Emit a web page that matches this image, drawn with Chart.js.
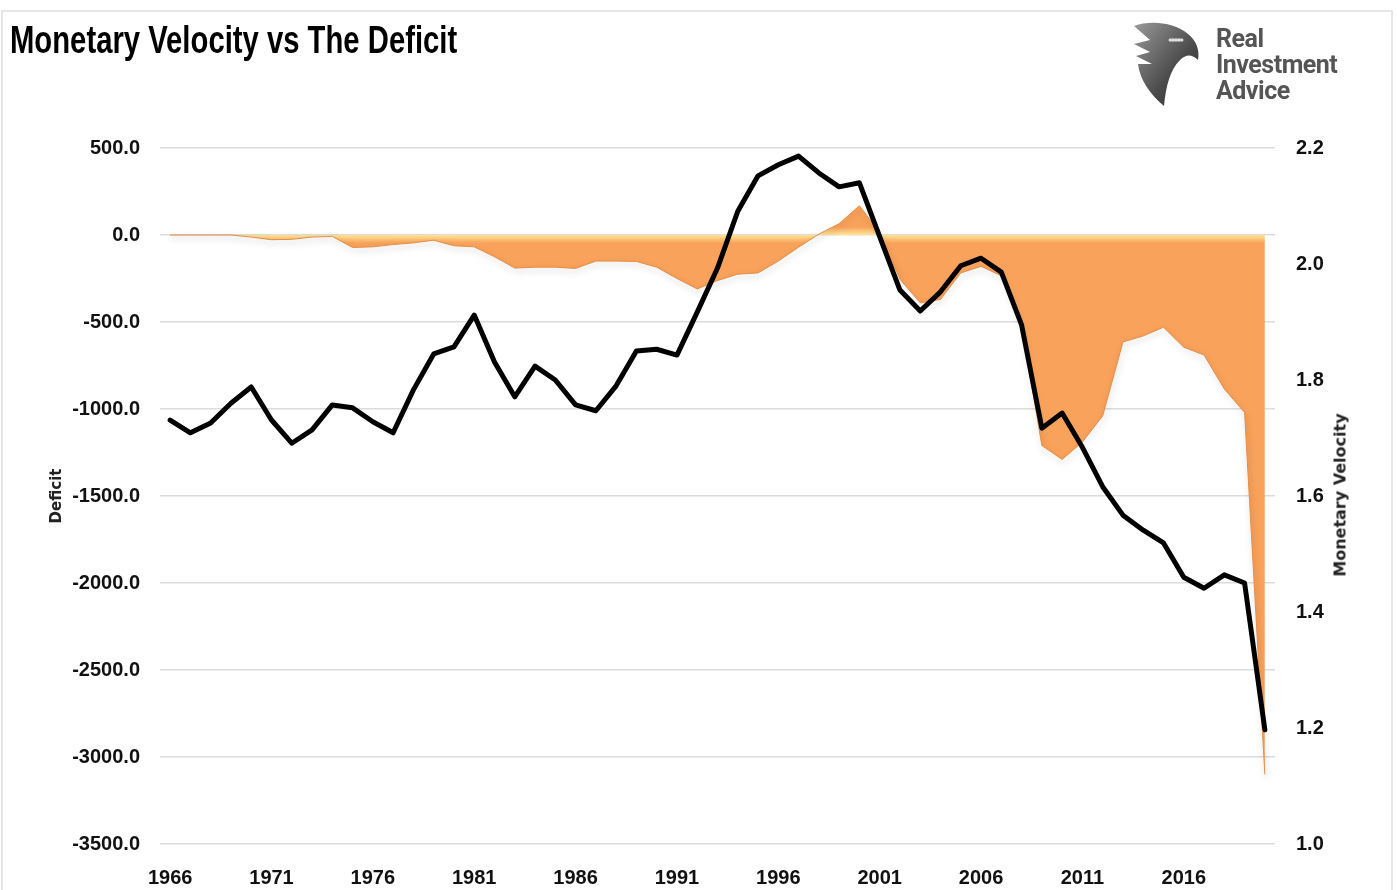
<!DOCTYPE html>
<html>
<head>
<meta charset="utf-8">
<title>Monetary Velocity vs The Deficit</title>
<script src="https://cdn.jsdelivr.net/npm/chart.js@4.4.1/dist/chart.umd.min.js"></script>
<style>
    html, body { margin: 0; padding: 0; background: #fff; }
    .page {
        position: relative;
        width: 1397px;
        height: 890px;
        overflow: hidden;
        font-family: "Liberation Sans", sans-serif;
    }
    .frame {
        position: absolute;
        left: 1px; top: 10px; right: 4px; bottom: -4px;
        border: 2px solid #e6e6e6;
    }
    .title {
        position: absolute;
        left: 10px; top: 19px;
        font-size: 38px;
        font-weight: bold;
        color: #000;
        white-space: nowrap;
        transform: scaleX(0.77);
        transform-origin: left top;
    }
    .logo-text {
        position: absolute;
        left: 1216px; top: 26px;
        font-family: Roboto, "Liberation Sans", sans-serif;
        font-weight: bold;
        font-size: 25px;
        line-height: 26px;
        color: #555;
        letter-spacing: -0.5px;
    }
    .logo-mark { position: absolute; left: 1130px; top: 20px; }
    .y2-title {
        position: absolute;
        left: 1340px; top: 495px;
        font-family: "DejaVu Sans", sans-serif;
        font-weight: bold;
        font-size: 16px;
        color: #222;
        white-space: nowrap;
        transform: translate(-50%, -50%) rotate(-90deg);
    }
    canvas { position: absolute; left: 0; top: 0; }
</style>
</head>
<body>
<div class="page">
    <div class="frame"></div>
    <canvas id="chartContext" width="1397" height="890"></canvas>
    <div class="title">Monetary Velocity vs The Deficit</div>
    <svg class="logo-mark" width="72" height="88" viewBox="0 0 72 88">
        <defs>
            <linearGradient id="lg" x1="0" y1="0" x2="1" y2="1">
                <stop offset="0" stop-color="#9a9a9a"/>
                <stop offset="0.6" stop-color="#4a4a4a"/>
                <stop offset="1" stop-color="#2e2e2e"/>
            </linearGradient>
        </defs>
        <path d="M4 6 C20 0 44 2 58 14 C66 20 70 30 68 40 C62 34 56 34 50 40 C40 50 36 66 34 86 C20 74 10 60 8 44 L22 44 L6 36 L20 32 L4 24 L20 20 Z" fill="url(#lg)"/>
        <path d="M40 20 L52 20" stroke="#ddd" stroke-width="3" stroke-linecap="round"/>
    </svg>
    <div class="logo-text">Real<br>Investment<br>Advice</div>
    <div class="y2-title">Monetary Velocity</div>
</div>
<script>
// Years 1966 - 2020
const years = [];
for (let y = 1966; y <= 2020; y++) years.push(String(y));

// Federal deficit ($bn)
const deficit = [
    0, 0, 0, 0, -12, -27, -25, -12, -8, -72,
    -68, -55, -45, -30, -62, -68, -125, -190, -185, -185,
    -192, -150, -150, -152, -185, -250, -310, -262, -225, -218,
    -150, -70, 5, 65, 168, 15, -255, -390, -370, -218,
    -180, -235, -520, -1210, -1290, -1190, -1040, -615, -580, -530,
    -645, -690, -885, -1020, -3100
];

// Velocity of money (right axis)
const velocity = [
    1.731, 1.709, 1.726, 1.760, 1.788, 1.731, 1.691, 1.714, 1.757, 1.752,
    1.728, 1.709, 1.783, 1.845, 1.857, 1.912, 1.831, 1.771, 1.824, 1.800,
    1.757, 1.747, 1.790, 1.850, 1.853, 1.843, 1.917, 1.993, 2.091, 2.152,
    2.171, 2.186, 2.157, 2.133, 2.140, 2.047, 1.955, 1.919, 1.952, 1.997,
    2.010, 1.986, 1.895, 1.717, 1.743, 1.684, 1.616, 1.567, 1.541, 1.519,
    1.460, 1.441, 1.464, 1.450, 1.197
];

const xLabelYears = ["1966", "1971", "1976", "1981", "1986", "1991", "1996", "2001", "2006", "2011", "2016"];

const tickFont = { family: "'Liberation Sans', sans-serif", size: 20, weight: "bold" };

// soft drop shadow under the deficit area (like the Excel bevel look)
const areaShadow = {
    id: "areaShadow",
    beforeDatasetDraw(chart, args) {
        if (args.index !== 0) return;
        const ctx = chart.ctx;
        ctx.save();
        ctx.shadowColor = "rgba(0,0,0,0.35)";
        ctx.shadowBlur = 6;
        ctx.shadowOffsetX = 1;
        ctx.shadowOffsetY = 3;
    },
    afterDatasetDraw(chart, args) {
        if (args.index !== 0) return;
        chart.ctx.restore();
    }
};

function areaFill(context) {
    const chart = context.chart;
    if (!chart.chartArea) return "#F9A25B";
    const y0 = chart.scales.y.getPixelForValue(0);
    const g = chart.ctx.createLinearGradient(0, y0 - 8, 0, y0 + 8);
    g.addColorStop(0, "#F9A25B");
    g.addColorStop(0.45, "#FFE08F");
    g.addColorStop(0.55, "#FFE08F");
    g.addColorStop(1, "#F9A25B");
    return g;
}

new Chart(document.getElementById("chartContext"), {
    type: "line",
    data: {
        labels: years,
        datasets: [
            {
                label: "Deficit",
                data: deficit,
                yAxisID: "y",
                fill: "origin",
                backgroundColor: areaFill,
                borderColor: "#E58D45",
                borderWidth: 1,
                pointRadius: 0,
                tension: 0,
                order: 2
            },
            {
                label: "Monetary Velocity",
                data: velocity,
                yAxisID: "y1",
                fill: false,
                borderColor: "#000",
                borderWidth: 5,
                borderJoinStyle: "round",
                borderCapStyle: "round",
                pointRadius: 0,
                tension: 0,
                order: 1
            }
        ]
    },
    options: {
        responsive: false,
        animation: false,
        layout: { padding: { top: 148, left: 0, right: 0, bottom: 0 } },
        plugins: {
            legend: { display: false },
            tooltip: { enabled: false }
        },
        scales: {
            x: {
                type: "category",
                offset: true,
                grid: { display: false, drawTicks: false },
                border: { display: false },
                ticks: {
                    autoSkip: false,
                    maxRotation: 0,
                    padding: 22,
                    color: "#111",
                    font: tickFont,
                    callback: function (value) {
                        const lbl = this.getLabelForValue(value);
                        return xLabelYears.includes(lbl) ? lbl : "";
                    }
                },
                afterFit: (scale) => { scale.height = 46; }
            },
            y: {
                position: "left",
                min: -3500,
                max: 500,
                grid: { color: "#dcdcdc", lineWidth: 1.5, drawTicks: false },
                border: { display: false },
                ticks: {
                    stepSize: 500,
                    padding: 20,
                    color: "#111",
                    font: tickFont,
                    callback: (v) => Number(v).toFixed(1)
                },
                title: {
                    display: true,
                    text: "Deficit",
                    color: "#222",
                    font: { family: "'DejaVu Sans', sans-serif", size: 15, weight: "bold" },
                    padding: { top: 48, bottom: 0 }
                },
                afterFit: (scale) => { scale.width = 160; }
            },
            y1: {
                position: "right",
                min: 1.0,
                max: 2.2,
                grid: { display: false, drawTicks: false },
                border: { display: false },
                ticks: {
                    stepSize: 0.2,
                    padding: 21,
                    color: "#111",
                    font: tickFont,
                    callback: (v) => Number(v).toFixed(1)
                },
                afterFit: (scale) => { scale.width = 122; }
            }
        }
    },
    plugins: [areaShadow]
});
</script>
</body>
</html>
